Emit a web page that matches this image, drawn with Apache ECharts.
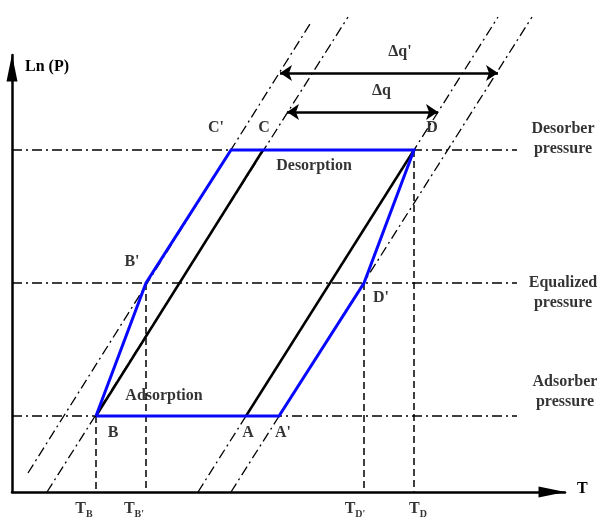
<!DOCTYPE html>
<html>
<head>
<meta charset="utf-8">
<script src="https://cdn.jsdelivr.net/npm/echarts@6/dist/echarts.min.js"></script>
<style>
  html, body { margin: 0; padding: 0; background: #fff; }
  #chart { width: 599px; height: 518px; }
</style>
</head>
<body>
<div id="chart"></div>
<script>
// ---- Data (T in arbitrary units, ln P in arbitrary units) ----
// Pressure levels
const levelNames = ['Adsorber\npressure', 'Equalized\npressure', 'Desorber\npressure'];
const levelP = [4, 11, 18];
const levelEndT = [505, 505, 505];

// Cycle corner points
const pointNames = ['B', "B'", "C'", 'C', 'D', "D'", 'A', "A'"];
const pointT = [84, 134, 219, 251, 402, 352, 234, 267];
const pointP = [4, 11, 18, 18, 18, 11, 4, 4];

// Ideal cycle legs (solid black): B-C and A-D
const idealLegs = [['B', 'C'], ['A', 'D']];
// Real cycle with pressure equalization (blue)
const realCycle = ['B', "B'", "C'", 'D', "D'", "A'", 'B'];

// Isosteres (dash-dot lines)
const isoStartT = [16, 35, 186, 219];
const isoStartP = [1, 0, 0, 0];
const isoEndT = [300, 336, 486, 520];
const isoEndP = [24.8, 25, 25, 25];

// Temperature markers
const tempSub = ['B', "B'", "D'", 'D'];
const tempT = [84, 134, 352, 402];
const tempTopP = [4, 11, 11, 18];

// Uptake differences
const deltaNames = ['\u0394q', "\u0394q'"];
const deltaP = [20, 22.05];
const deltaStartT = [275, 268];
const deltaEndT = [426, 486];

// Region captions
const captionNames = ['Desorption', 'Adsorption'];
const captionT = [302, 152];
const captionP = [17.15, 5.05];

// Axis ranges
const tMax = 553;
const pMax = 23;

// ---- Styles ----
const ink = '#000';
const blue = '#0808ff';
const font = 'Liberation Serif';
const dashDot = [10, 4, 2, 4];
const textBase = { fontFamily: font, fontWeight: 'bold', fontSize: 16, color: ink };

const pointLabelOffset = {
  'B': [17, 17], "B'": [-14, -21], "C'": [-15, -22], 'C': [1, -22],
  'D': [18, -22], "D'": [17, 15], 'A': [2, 17], "A'": [4, 17]
};
const levelLabelOffset = [[2, -24], [0, 10], [0, -11]];
const tempLabelOffset = [-12, -12, -9, 4];
const levelLabelT = 551;

const pt = name => {
  const i = pointNames.indexOf(name);
  return [pointT[i], pointP[i]];
};

const series = [];

// Isosteres
isoStartT.forEach((t0, i) => {
  series.push({
    type: 'line', symbol: 'none', clip: false, silent: true, z: 1,
    data: [[t0, isoStartP[i]], [isoEndT[i], isoEndP[i]]],
    lineStyle: { color: ink, width: 1.3, type: dashDot }
  });
});

// Pressure levels
levelP.forEach((p, i) => {
  series.push({
    type: 'line', symbol: 'none', clip: false, silent: true, z: 1,
    data: [[0, p], [levelEndT[i], p]],
    lineStyle: { color: ink, width: 1.3, type: dashDot }
  });
});

// Temperature drop lines
tempT.forEach((t, i) => {
  series.push({
    type: 'line', symbol: 'none', clip: false, silent: true, z: 1,
    data: [[t, tempTopP[i]], [t, 0]],
    lineStyle: { color: ink, width: 1.5, type: [7, 4] }
  });
});

// Ideal cycle legs
idealLegs.forEach(leg => {
  series.push({
    type: 'line', symbol: 'none', clip: false, silent: true, z: 3,
    data: leg.map(pt),
    lineStyle: { color: ink, width: 2.5 }
  });
});

// Real cycle
series.push({
  type: 'line', symbol: 'none', clip: false, silent: true, z: 4,
  data: realCycle.map(pt),
  lineStyle: { color: blue, width: 3, join: 'miter' }
});

// Delta q arrows
series.push({
  type: 'lines', coordinateSystem: 'cartesian2d', silent: true, z: 5,
  symbol: ['arrow', 'arrow'], symbolSize: 12, symbolOffset: [0, 6],
  lineStyle: { color: ink, width: 2.5, opacity: 1, curveness: 0 },
  data: deltaP.map((p, i) => ({ coords: [[deltaStartT[i], p], [deltaEndT[i], p]] }))
});

// Text labels anchored in data space
const labelItems = [];
pointNames.forEach((n, i) => {
  labelItems.push({ value: [pointT[i], pointP[i]], label: { formatter: n, offset: pointLabelOffset[n] } });
});
levelNames.forEach((n, i) => {
  labelItems.push({
    value: [levelLabelT, levelP[i]],
    label: { formatter: n, offset: levelLabelOffset[i], lineHeight: 20 }
  });
});
captionNames.forEach((n, i) => {
  labelItems.push({ value: [captionT[i], captionP[i]], label: { formatter: n } });
});
deltaNames.forEach((n, i) => {
  const mid = (deltaStartT[i] + deltaEndT[i]) / 2;
  labelItems.push({ value: [mid, deltaP[i]], label: { formatter: n, offset: [i ? 11 : 19, -21] } });
});
tempSub.forEach((s, i) => {
  labelItems.push({
    value: [tempT[i], 0],
    label: {
      formatter: '{t|T}{s|' + s + '}',
      offset: [tempLabelOffset[i], 16],
      rich: {
        t: { fontFamily: font, fontWeight: 'bold', fontSize: 16, verticalAlign: 'bottom', lineHeight: 18 },
        s: { fontFamily: font, fontWeight: 'bold', fontSize: 10, verticalAlign: 'bottom', lineHeight: 18, padding: [0, 0, -2, 0] }
      }
    }
  });
});

series.push({
  type: 'scatter', symbolSize: 0, clip: false, silent: true, z: 10,
  data: labelItems,
  label: Object.assign({ show: true, position: 'inside', align: 'center', verticalAlign: 'middle' }, textBase)
});

const chart = echarts.init(document.getElementById('chart'), null, { renderer: 'canvas' });
chart.setOption({
  animation: false,
  backgroundColor: '#fff',
  grid: { left: 12, top: 55, width: 553, height: 437, containLabel: false },
  xAxis: {
    type: 'value', min: 0, max: tMax,
    axisLine: {
      show: true, onZero: false,
      symbol: ['none', 'triangle'], symbolSize: [11, 27], symbolOffset: [0, -13],
      lineStyle: { color: ink, width: 2.5 }
    },
    axisTick: { show: false }, axisLabel: { show: false }, splitLine: { show: false }
  },
  yAxis: {
    type: 'value', min: 0, max: pMax,
    axisLine: {
      show: true, onZero: false,
      symbol: ['none', 'triangle'], symbolSize: [11, 27], symbolOffset: [0, -13],
      lineStyle: { color: ink, width: 2.5 }
    },
    axisTick: { show: false }, axisLabel: { show: false }, splitLine: { show: false }
  },
  graphic: [
    { type: 'text', left: 25, top: 59, style: Object.assign({ text: 'Ln (P)' }, textBase) },
    { type: 'text', left: 577, top: 481, style: Object.assign({ text: 'T' }, textBase) }
  ],
  series: series
});
</script>
</body>
</html>
